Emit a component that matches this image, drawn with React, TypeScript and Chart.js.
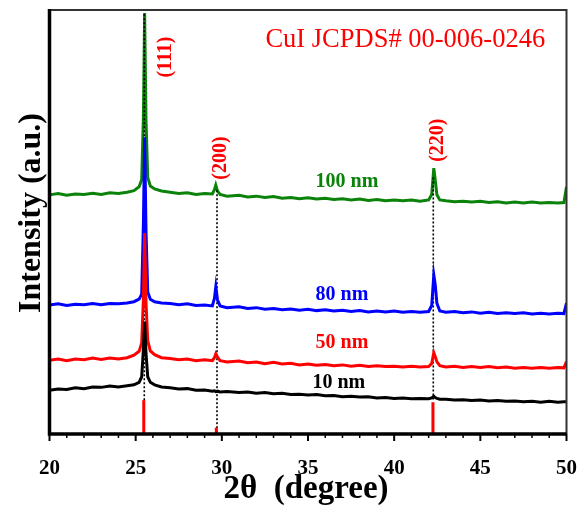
import { useEffect, useRef } from "react";
import { Chart, registerables } from "chart.js";

Chart.register(...registerables);

// 2θ sample positions (degree)
const twoTheta = [
  20, 20.5, 21, 21.5, 22, 22.5, 23, 23.5, 24, 24.5,
  24.9, 25.2, 25.35, 25.45, 25.52, 25.6, 25.7, 25.85, 26.1, 26.5,
  27, 27.5, 28, 28.5, 29,
  29.45, 29.57, 29.65, 29.75, 29.9, 30.3,
  31, 31.5, 32, 32.5, 33, 33.5, 34, 34.5, 35, 35.5,
  36, 36.5, 37, 37.5, 38, 38.5, 39, 39.5, 40, 40.5,
  41, 41.5, 42.0, 42.18, 42.3, 42.38, 42.48, 42.65, 43, 43.5,
  44, 44.5, 45, 45.5, 46, 46.5, 47, 47.5, 48, 48.5,
  49, 49.5, 49.85, 50,
];

// Intensities (a.u., stacked with offsets as in the figure)
const int100nm = [
  56.4, 56.7, 56.3, 56.6, 56.5, 56.8, 56.5, 56.9, 56.7, 57.0,
  57.4, 58.3, 60.0, 75.0, 99.3, 74.0, 60.5, 58.5, 57.8, 57.3,
  57.0, 56.7, 56.9, 56.5, 56.7,
  56.6, 57.6, 58.7, 57.3, 56.5, 56.1,
  56.3, 55.9, 56.1, 55.8, 56.0, 55.6, 55.8, 55.5, 55.7, 55.4,
  55.6, 55.3, 55.5, 55.2, 55.4, 55.1, 55.3, 55.0, 55.2, 55.0,
  55.2, 54.9, 55.2, 56.5, 62.7, 60.0, 56.4, 55.2, 55.0, 54.8,
  54.9, 54.7, 54.9, 54.6, 54.8, 54.5, 54.7, 54.5, 54.7, 54.5,
  54.6, 54.5, 54.6, 58.3,
];
const int80nm = [
  30.4, 30.7, 30.3, 30.6, 30.5, 30.8, 30.5, 30.8, 30.7, 30.9,
  31.2, 31.8, 33.0, 50.0, 70.0, 48.0, 33.5, 31.8, 31.2, 30.9,
  30.8, 30.5, 30.7, 30.3, 30.4,
  30.2, 32.0, 34.7, 31.6, 30.2, 29.8,
  30.0, 29.6, 29.8, 29.4, 29.6, 29.3, 29.5, 29.2, 29.4, 29.1,
  29.3, 29.0, 29.2, 28.9, 29.1, 28.8, 29.0, 28.8, 29.0, 28.7,
  28.9, 28.7, 28.9, 30.3, 37.5, 35.3, 30.8, 29.0, 28.7, 28.9,
  28.6, 28.8, 28.5, 28.7, 28.4, 28.6, 28.4, 28.6, 28.3, 28.5,
  28.3, 28.5, 28.4, 30.9,
];
const int50nm = [
  17.4, 17.7, 17.3, 17.7, 17.5, 17.9, 17.6, 17.9, 17.7, 18.0,
  18.6, 19.5, 21.5, 32.0, 47.4, 31.0, 22.0, 19.6, 18.7, 18.0,
  17.8, 17.5, 17.7, 17.3, 17.5,
  17.3, 18.0, 18.9, 18.1, 17.3, 17.0,
  17.2, 16.8, 17.0, 16.6, 16.9, 16.5, 16.7, 16.3, 16.5, 16.2,
  16.4, 16.1, 16.3, 16.0, 16.2, 15.9, 16.1, 15.9, 16.0, 15.8,
  16.0, 15.8, 15.9, 16.6, 19.2, 18.3, 17.0, 16.1, 15.8, 16.0,
  15.7, 15.9, 15.7, 15.9, 15.6, 15.8, 15.5, 15.7, 15.5, 15.7,
  15.5, 15.7, 15.6, 17.1,
];
const int10nm = [
  10.3, 10.6, 10.5, 10.9, 10.7, 11.1, 11.0, 11.3, 11.1, 11.4,
  11.6, 12.2, 13.5, 20.0, 26.5, 19.0, 13.5, 12.2, 11.6, 11.1,
  10.9, 10.6, 10.7, 10.3, 10.4,
  10.1, 10.2, 10.0, 10.1, 9.9, 10.0,
  9.8, 9.9, 9.6, 9.8, 9.5, 9.6, 9.3, 9.4, 9.2, 9.3,
  9.0, 9.1, 8.8, 8.9, 8.7, 8.8, 8.5, 8.6, 8.4, 8.5,
  8.3, 8.4, 8.3, 8.5, 8.9, 8.6, 8.4, 8.2, 8.2, 8.0,
  8.1, 7.9, 8.0, 7.8, 7.9, 7.7, 7.8, 7.6, 7.7, 7.5,
  7.7, 7.5, 7.6, 7.6,
];

const seriesLabels = ["10 nm", "50 nm", "80 nm", "100 nm"];
const seriesColors = ["#000000", "#ff0000", "#0000ff", "#0b830b"];
const seriesValues = [int10nm, int50nm, int80nm, int100nm];

const xTicks = [20, 25, 30, 35, 40, 45, 50];
const xMinorTicks = [21, 22, 23, 24, 26, 27, 28, 29, 31, 32, 33, 34, 36, 37, 38, 39, 41, 42, 43, 44, 46, 47, 48, 49];

// JCPDS 00-006-0246 reference lines
const refPeaks = [25.47, 29.68, 42.25];
const refHeights = [8, 1.5, 7.5];
const hklLabels = ["(111)", "(200)", "(220)"];
// dotted guide lines
const guideX = [25.5, 29.72, 42.27];
const guideTop = [99, 57.5, 60.5];
const guideBottom = [8, 0, 8];

const FONT = '"Liberation Serif", "Times New Roman", serif';

const xrdPlugin = {
  id: "xrdDecor",
  afterDatasetDraw(chart: any, args: any) {
    if (args.index !== 3) return;
    const ctx = chart.ctx;
    const xs = chart.scales.x;
    const ys = chart.scales.y;
    ctx.save();
    ctx.strokeStyle = "#000";
    ctx.lineWidth = 1.6;
    ctx.setLineDash([2, 2]);
    guideX.forEach((gx, i) => {
      const px = xs.getPixelForValue(gx);
      ctx.beginPath();
      ctx.moveTo(px, ys.getPixelForValue(guideTop[i]));
      ctx.lineTo(px, ys.getPixelForValue(guideBottom[i]));
      ctx.stroke();
    });
    ctx.restore();
  },
  afterDraw(chart: any) {
    const ctx = chart.ctx;
    const xs = chart.scales.x;
    const ys = chart.scales.y;
    const a = chart.chartArea;
    ctx.save();

    // reference bars
    ctx.strokeStyle = "#ff0000";
    ctx.lineWidth = 3;
    refPeaks.forEach((p, i) => {
      const px = xs.getPixelForValue(p);
      ctx.beginPath();
      ctx.moveTo(px, ys.getPixelForValue(0));
      ctx.lineTo(px, ys.getPixelForValue(refHeights[i]));
      ctx.stroke();
    });

    // frame: thin top/right, thick left/bottom
    ctx.strokeStyle = "#333";
    ctx.lineWidth = 2;
    ctx.beginPath();
    ctx.moveTo(a.left, a.top);
    ctx.lineTo(a.right, a.top);
    ctx.lineTo(a.right, a.bottom);
    ctx.stroke();
    ctx.strokeStyle = "#000";
    ctx.lineWidth = 3.5;
    ctx.beginPath();
    ctx.moveTo(a.left, a.top - 1);
    ctx.lineTo(a.left, a.bottom);
    ctx.lineTo(a.right, a.bottom);
    ctx.stroke();

    // ticks
    ctx.lineWidth = 2;
    xTicks.forEach((t) => {
      const px = xs.getPixelForValue(t);
      ctx.beginPath();
      ctx.moveTo(px, a.bottom);
      ctx.lineTo(px, a.bottom + 7);
      ctx.stroke();
    });
    ctx.lineWidth = 1.5;
    xMinorTicks.forEach((t) => {
      const px = xs.getPixelForValue(t);
      ctx.beginPath();
      ctx.moveTo(px, a.bottom);
      ctx.lineTo(px, a.bottom + 4);
      ctx.stroke();
    });

    // hkl labels (rotated)
    const hklPos = [
      [26.73, 88.9],
      [29.92, 65.1],
      [42.51, 69.3],
    ];
    ctx.fillStyle = "#ff0000";
    ctx.font = `bold 20px ${FONT}`;
    ctx.textAlign = "center";
    ctx.textBaseline = "middle";
    hklLabels.forEach((t, i) => {
      ctx.save();
      ctx.translate(xs.getPixelForValue(hklPos[i][0]), ys.getPixelForValue(hklPos[i][1]));
      ctx.rotate(-Math.PI / 2);
      ctx.fillText(t, 0, 0);
      ctx.restore();
    });

    // JCPDS card label
    ctx.font = `26.5px ${FONT}`;
    ctx.textAlign = "left";
    ctx.textBaseline = "alphabetic";
    ctx.fillText("CuI JCPDS# 00-006-0246", xs.getPixelForValue(32.53), ys.getPixelForValue(91.3));

    // series labels
    const labelPos = [
      [35.26, 12.0],
      [35.44, 21.5],
      [35.44, 32.8],
      [35.44, 59.4],
    ];
    ctx.font = `bold 20px ${FONT}`;
    ctx.textBaseline = "middle";
    seriesLabels.forEach((t, i) => {
      ctx.fillStyle = seriesColors[i];
      ctx.fillText(t, xs.getPixelForValue(labelPos[i][0]), ys.getPixelForValue(labelPos[i][1]));
    });

    // axis titles
    ctx.fillStyle = "#000";
    ctx.font = `bold 33px ${FONT}`;
    ctx.textAlign = "center";
    ctx.textBaseline = "alphabetic";
    ctx.fillText("2\u03b8  (degree)", 306, 498);
    ctx.save();
    ctx.translate(40, 213);
    ctx.rotate(-Math.PI / 2);
    ctx.font = `bold 32px ${FONT}`;
    ctx.fillText("Intensity (a.u.)", 0, 0);
    ctx.restore();

    ctx.restore();
  },
};

export default function App() {
  const ref = useRef<HTMLCanvasElement>(null);
  useEffect(() => {
    const canvas = ref.current!;
    const chart = new Chart(canvas, {
      type: "line",
      data: {
        datasets: seriesLabels.map((label, i) => ({
          label,
          data: twoTheta.map((x, j) => ({ x, y: seriesValues[i][j] })),
          borderColor: seriesColors[i],
          borderWidth: 3,
          pointRadius: 0,
          tension: 0,
          fill: false,
        })),
      },
      options: {
        responsive: false,
        animation: false,
        devicePixelRatio: 1,
        layout: { padding: { left: 49.5, right: 12.5, top: 10, bottom: 0 } },
        plugins: { legend: { display: false }, tooltip: { enabled: false } },
        scales: {
          x: {
            type: "linear",
            min: 20,
            max: 50,
            afterBuildTicks: (s: any) => {
              s.ticks = xTicks.map((v) => ({ value: v }));
            },
            afterFit: (s: any) => {
              s.height = 74;
              s.paddingLeft = 0;
              s.paddingRight = 0;
            },
            grid: { display: false },
            border: { display: false },
            ticks: {
              font: { family: FONT, size: 21, weight: "bold" },
              color: "#000",
              padding: 14,
              maxRotation: 0,
            },
          },
          y: { display: false, min: 0, max: 100 },
        },
      },
      plugins: [xrdPlugin],
    } as any);
    return () => chart.destroy();
  }, []);
  return (
    <div style={{ position: "absolute", left: 0, top: 0, width: 579, height: 508, background: "#fff" }}>
      <canvas ref={ref} width={579} height={508} />
    </div>
  );
}
